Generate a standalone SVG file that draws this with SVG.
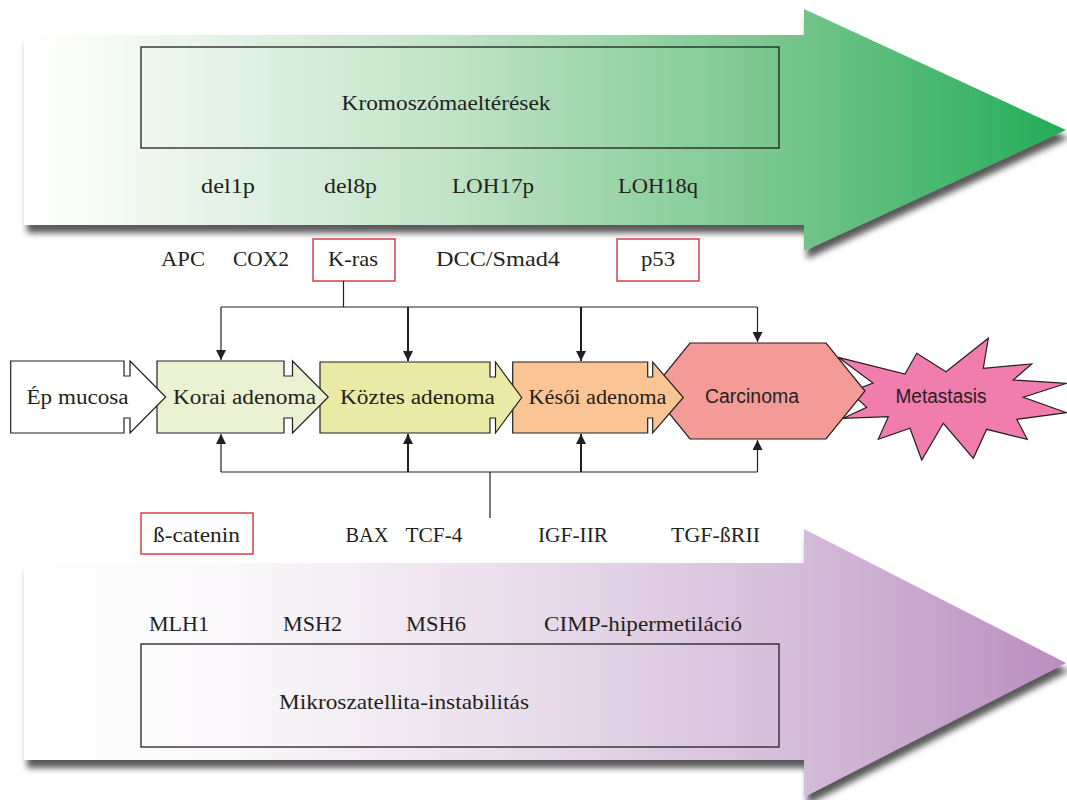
<svg xmlns="http://www.w3.org/2000/svg" width="1067" height="800" viewBox="0 0 1067 800">
<defs>
<linearGradient id="gGreen" gradientUnits="userSpaceOnUse" x1="24" y1="0" x2="1066" y2="0">
<stop offset="0" stop-color="#ffffff"/>
<stop offset="0.07" stop-color="#f7fbf7"/>
<stop offset="0.4" stop-color="#c3e4c8"/>
<stop offset="0.75" stop-color="#71c489"/>
<stop offset="1" stop-color="#22ac57"/>
</linearGradient>
<linearGradient id="gPurple" gradientUnits="userSpaceOnUse" x1="24" y1="0" x2="1066" y2="0">
<stop offset="0" stop-color="#ffffff"/>
<stop offset="0.2" stop-color="#faf8fa"/>
<stop offset="0.45" stop-color="#ebe0ed"/>
<stop offset="0.75" stop-color="#d3bcd8"/>
<stop offset="1" stop-color="#ba8dbf"/>
</linearGradient>
<filter id="shadow" x="-5%" y="-10%" width="115%" height="130%">
<feDropShadow dx="3" dy="8" stdDeviation="3" flood-color="#000" flood-opacity="0.65"/>
</filter>
<marker id="ah" markerUnits="userSpaceOnUse" markerWidth="10" markerHeight="10" viewBox="0 0 10 10" refX="10" refY="5" orient="auto">
<path d="M0,0 L10,5 L0,10 z" fill="#231f20"/>
</marker>
<style>
.t{font-family:"Liberation Serif","Times New Roman",serif;font-size:22px;fill:#231f20;text-anchor:middle}
.n{font-family:"Liberation Serif","Times New Roman",serif;font-size:20px;fill:#231f20;text-anchor:middle}
.s{font-family:"Liberation Sans",Arial,sans-serif;font-size:20px;fill:#231f20;text-anchor:middle}
.box{fill:none;stroke:#231f20;stroke-width:1.3}
.rbox{fill:#ffffff;stroke:#d2232a;stroke-width:1.3}
.node{stroke:#231f20;stroke-width:1.2;stroke-linejoin:miter}
.thin{fill:none;stroke:#231f20;stroke-width:1.2}
.thick{fill:none;stroke:#231f20;stroke-width:2}
</style>
</defs>
<rect width="1067" height="800" fill="#ffffff"/>

<g id="chromosome-arrow">
<path d="M24,35 H804 V9 L1066,130 L804,251 V225 H24 Z" fill="url(#gGreen)" filter="url(#shadow)"/>
<rect class="box" x="141" y="47" width="638" height="101"/>
<text class="t" x="446" y="110" textLength="209" lengthAdjust="spacingAndGlyphs">Kromoszómaeltérések</text>
<text class="t" x="228" y="193" textLength="54" lengthAdjust="spacingAndGlyphs">del1p</text>
<text class="t" x="350.5" y="193" textLength="53" lengthAdjust="spacingAndGlyphs">del8p</text>
<text class="t" x="493" y="193" textLength="82" lengthAdjust="spacingAndGlyphs">LOH17p</text>
<text class="t" x="658" y="193" textLength="80" lengthAdjust="spacingAndGlyphs">LOH18q</text>
</g>

<g id="msi-arrow">
<path d="M24,563 H804 V529 L1066,663 L804,797 V760 H24 Z" fill="url(#gPurple)" filter="url(#shadow)"/>
<rect class="box" x="141" y="644" width="638" height="103"/>
<text class="t" x="404" y="709" textLength="250" lengthAdjust="spacingAndGlyphs">Mikroszatellita-instabilitás</text>
<text class="t" x="179" y="631" textLength="60" lengthAdjust="spacingAndGlyphs">MLH1</text>
<text class="t" x="312.5" y="631" textLength="59" lengthAdjust="spacingAndGlyphs">MSH2</text>
<text class="t" x="436" y="631" textLength="60" lengthAdjust="spacingAndGlyphs">MSH6</text>
<text class="t" x="643" y="631" textLength="198" lengthAdjust="spacingAndGlyphs">CIMP-hipermetiláció</text>
</g>

<g id="top-genes">
<text class="t" x="183" y="266" textLength="44" lengthAdjust="spacingAndGlyphs">APC</text>
<text class="t" x="261" y="266" textLength="56" lengthAdjust="spacingAndGlyphs">COX2</text>
<g id="kras">
<rect class="rbox" x="313" y="239" width="82" height="42"/>
<text class="t" x="353" y="266" textLength="50" lengthAdjust="spacingAndGlyphs">K-ras</text>
</g>
<text class="t" x="498" y="266" textLength="124" lengthAdjust="spacingAndGlyphs">DCC/Smad4</text>
<g id="p53">
<rect class="rbox" x="617" y="239" width="82" height="42"/>
<text class="t" x="658" y="266" textLength="34" lengthAdjust="spacingAndGlyphs">p53</text>
</g>
</g>

<g id="bottom-genes">
<g id="bcatenin">
<rect class="rbox" x="141" y="513" width="112" height="41"/>
<text class="t" x="196.5" y="542" textLength="87" lengthAdjust="spacingAndGlyphs">ß-catenin</text>
</g>
<text class="t" x="367" y="542" textLength="43" lengthAdjust="spacingAndGlyphs">BAX</text>
<text class="t" x="434" y="542" textLength="57" lengthAdjust="spacingAndGlyphs">TCF-4</text>
<text class="t" x="573" y="542" textLength="70" lengthAdjust="spacingAndGlyphs">IGF-IIR</text>
<text class="t" x="715.5" y="542" textLength="89" lengthAdjust="spacingAndGlyphs">TGF-ßRII</text>
</g>

<g id="node-metastasis">
<path class="node" fill="#f07dae" d="M838.3,357.3 L905,374 L916.7,353.3 L946,371.7 L988.3,338.3 L983.3,368.3 L1031.7,364 L1013.3,380 L1066.7,383.3 L1023.3,397.3 L1066.7,412.7 L1016.7,419.3 L1027.3,439.3 L986.7,429.3 L973.3,458.3 L943.3,423.3 L921.7,460 L910,428.3 L878.3,439.3 L888.3,416.7 L843.3,418.3 L866.7,407.3 L850,392 L873,383 Z"/>
<text class="s" x="941" y="403" textLength="91" lengthAdjust="spacingAndGlyphs">Metastasis</text>
</g>
<g id="node-carcinoma">
<path class="node" fill="#f49a97" d="M690,343 H826 L865,391 L826,439 H690 L651,391 Z"/>
<text class="s" x="752" y="403" textLength="94" lengthAdjust="spacingAndGlyphs">Carcinoma</text>
</g>
<g id="node-kesoi">
<path class="node" fill="#fbc494" d="M512.7,362 H647.7 V377 H652.7 V362 L683.3,397.5 L652.7,433 V418 H647.7 V433 H512.7 Z"/>
<text class="n" x="597.5" y="404" textLength="138" lengthAdjust="spacingAndGlyphs">Késői adenoma</text>
</g>
<g id="node-koztes">
<path class="node" fill="#e9eaa6" d="M320,362 H490 V377 H495.5 V362 L521.7,397.5 L495.5,433 V418 H490 V433 H320 Z"/>
<text class="n" x="417.5" y="404" textLength="155" lengthAdjust="spacingAndGlyphs">Köztes adenoma</text>
</g>
<g id="node-korai">
<path class="node" fill="#ebf2d3" d="M157,361 H284 V376 H292.5 V361 L328.3,397 L292.5,433 V418 H284 V433 H157 Z"/>
<text class="n" x="244.5" y="404" textLength="143" lengthAdjust="spacingAndGlyphs">Korai adenoma</text>
</g>
<g id="node-ep">
<path class="node" fill="#ffffff" d="M10.7,361 H124 V376 H130 V361 L165.7,397 L130,433 V418 H124 V433 H10.7 Z"/>
<text class="n" x="77.5" y="404" textLength="102" lengthAdjust="spacingAndGlyphs">Ép mucosa</text>
</g>

<g id="connectors">
<path class="thin" d="M343.5,281 V307 M221,307 H757.5"/>
<path class="thin" d="M221,307 V360" marker-end="url(#ah)"/>
<path class="thick" d="M408,307 V361" marker-end="url(#ah)"/>
<path class="thick" d="M581,307 V361" marker-end="url(#ah)"/>
<path class="thin" d="M757.5,307 V342" marker-end="url(#ah)"/>
<path class="thin" d="M490,518 V472 M221,472 H757.5"/>
<path class="thin" d="M221,472 V434" marker-end="url(#ah)"/>
<path class="thick" d="M408,472 V434" marker-end="url(#ah)"/>
<path class="thick" d="M581,472 V434" marker-end="url(#ah)"/>
<path class="thin" d="M757.5,472 V440" marker-end="url(#ah)"/>
</g>
</svg>
